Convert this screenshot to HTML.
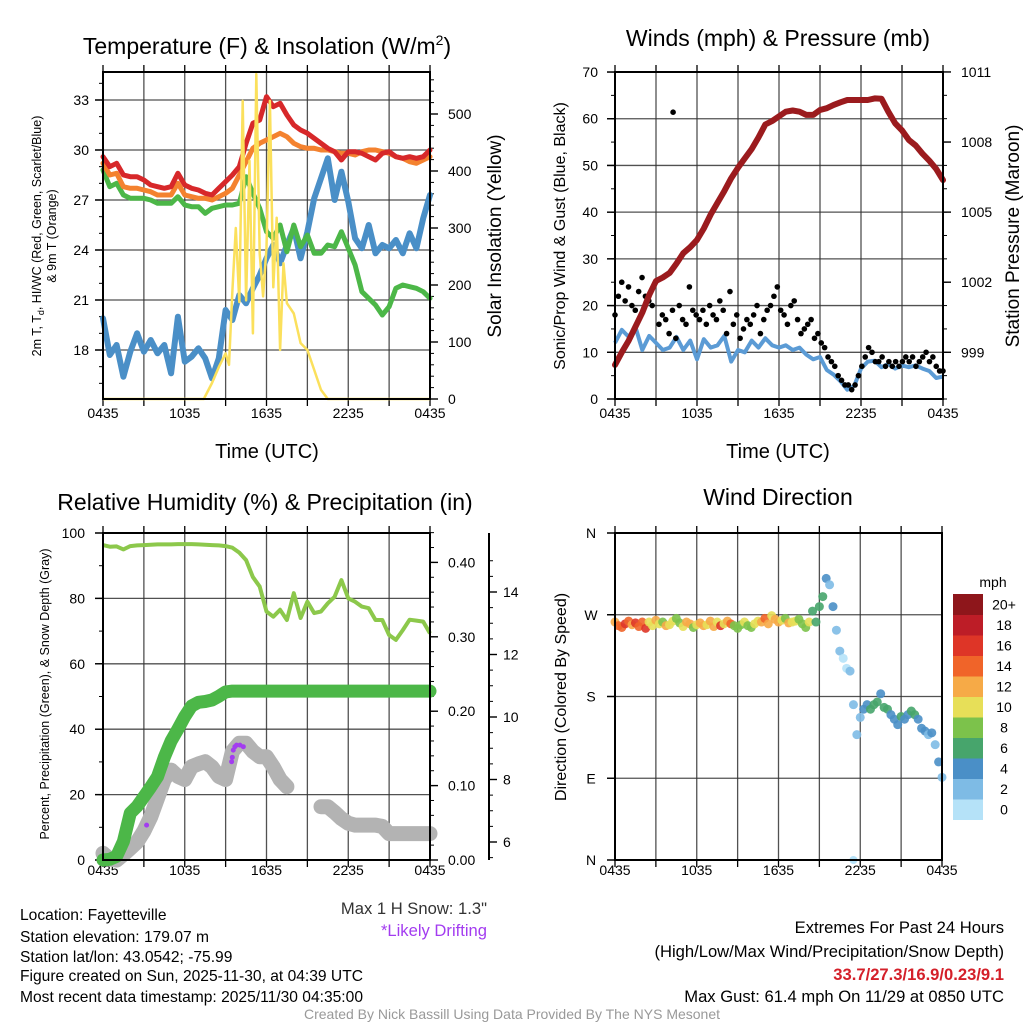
<!DOCTYPE html>
<html><head><meta charset="utf-8"><title>Mesonet Station Summary</title>
<style>
html,body{margin:0;padding:0;background:#fff;}
svg{display:block;font-family:"Liberation Sans",Arial,sans-serif;}
</style></head>
<body>
<svg id="chart" xmlns="http://www.w3.org/2000/svg" width="1024" height="1024" viewBox="0 0 1024 1024">
<rect x="0" y="0" width="1024" height="1024" fill="#fff"/>
<g id="layer"></g>
<!-- titles -->
<text x="267" y="54" font-size="23" text-anchor="middle">Temperature (F) &amp; Insolation (W/m<tspan font-size="14" dy="-9">2</tspan><tspan dy="9">)</tspan></text>
<text x="778" y="46" font-size="23" text-anchor="middle">Winds (mph) &amp; Pressure (mb)</text>
<text x="265" y="510" font-size="23" text-anchor="middle">Relative Humidity (%) &amp; Precipitation (in)</text>
<text x="778" y="505" font-size="23" text-anchor="middle">Wind Direction</text>
<!-- axis titles -->
<text x="267" y="458" font-size="20" text-anchor="middle">Time (UTC)</text>
<text x="778" y="458" font-size="20" text-anchor="middle">Time (UTC)</text>
<text transform="translate(41,236) rotate(-90)" font-size="12.5" text-anchor="middle">2m T, T<tspan font-size="9" dy="3">d</tspan><tspan dy="-3">, HI/WC (Red, Green, Scarlet/Blue)</tspan></text>
<text transform="translate(56,236) rotate(-90)" font-size="12.5" text-anchor="middle">&amp; 9m T (Orange)</text>
<text transform="translate(501,236) rotate(-90)" font-size="19" text-anchor="middle">Solar Insolation (Yellow)</text>
<text transform="translate(565,236) rotate(-90)" font-size="16" text-anchor="middle">Sonic/Prop Wind &amp; Gust (Blue, Black)</text>
<text transform="translate(1019,236) rotate(-90)" font-size="19" text-anchor="middle">Station Pressure (Maroon)</text>
<text transform="translate(49,694) rotate(-90)" font-size="12.5" text-anchor="middle">Percent, Precipitation (Green), &amp; Snow Depth (Gray)</text>
<text transform="translate(566,697) rotate(-90)" font-size="16" text-anchor="middle">Direction (Colored By Speed)</text>
<text x="993" y="587" font-size="14" text-anchor="middle">mph</text>
<!-- footer text -->
<g font-size="15.6">
<text x="20" y="920">Location: Fayetteville</text>
<text x="20" y="942">Station elevation: 179.07 m</text>
<text x="20" y="962">Station lat/lon: 43.0542; -75.99</text>
<text x="20" y="981">Figure created on Sun, 2025-11-30, at 04:39 UTC</text>
<text x="20" y="1002">Most recent data timestamp: 2025/11/30 04:35:00</text>
</g>
<text x="487" y="914" font-size="16.6" text-anchor="end" fill="#333">Max 1 H Snow: 1.3"</text>
<text x="487" y="936" font-size="16.6" text-anchor="end" fill="#a33cf0">*Likely Drifting</text>
<text x="1004" y="933" font-size="16.6" text-anchor="end">Extremes For Past 24 Hours</text>
<text x="1004" y="957" font-size="16.6" text-anchor="end">(High/Low/Max Wind/Precipitation/Snow Depth)</text>
<text x="1004" y="980" font-size="16.6" font-weight="bold" text-anchor="end" fill="#d4202a">33.7/27.3/16.9/0.23/9.1</text>
<text x="1004" y="1002" font-size="16.6" text-anchor="end">Max Gust: 61.4 mph On 11/29 at 0850 UTC</text>
<text x="512" y="1019" font-size="14" text-anchor="middle" fill="#999">Created By Nick Bassill Using Data Provided By The NYS Mesonet</text>
</svg>
<script>
// ---------- DATA ----------
const halfHourTimes = [0,0.5,1,1.5,2,2.5,3,3.5,4,4.5,5,5.5,6,6.5,7,7.5,8,8.5,9,9.5,10,10.5,11,11.5,12,12.5,13,13.5,14,14.5,15,15.5,16,16.5,17,17.5,18,18.5,19,19.5,20,20.5,21,21.5,22,22.5,23,23.5,24];
const xTickLabels = ["0435","1035","1635","2235","0435"];
const tempRed = [29.6,29.0,29.2,28.5,28.4,28.4,28.2,27.9,27.8,27.7,27.8,28.6,27.9,27.7,27.6,27.4,27.3,27.7,28.1,28.5,29.0,30.4,31.6,31.8,33.2,32.6,32.8,32.1,31.5,31.2,31.0,30.7,30.4,30.1,29.9,29.4,29.9,29.9,29.8,29.6,29.4,29.8,29.9,29.6,29.5,29.6,29.5,29.6,30.0];
const temp9m = [29.2,28.5,28.6,27.8,27.7,27.7,27.6,27.5,27.3,27.3,27.3,28.0,27.3,27.2,27.1,27.1,27.0,27.2,27.4,27.7,28.5,29.3,30.1,30.4,30.6,30.8,31.0,30.8,30.4,30.2,30.1,30.1,30.0,30.0,29.9,29.8,29.8,29.7,29.9,30.0,30.0,29.9,29.8,29.6,29.5,29.3,29.2,29.4,29.6];
const dewpoint = [28.8,27.8,28.0,27.3,27.1,27.1,27.1,27.0,26.8,26.8,26.8,27.2,26.7,26.6,26.6,26.2,26.5,26.6,26.7,26.7,26.8,28.4,27.4,26.5,25.1,24.7,25.5,23.9,25.5,24.2,24.9,23.8,23.8,24.3,24.2,25.1,24.1,23.1,21.5,21.1,20.7,20.1,20.6,21.7,21.9,21.8,21.7,21.5,21.1];
const windChill = [19.9,17.7,18.3,16.4,17.9,19.0,17.9,18.6,17.8,18.3,16.6,20.0,17.3,17.6,18.1,17.5,16.3,17.5,20.4,19.8,21.3,20.8,21.7,22.5,23.5,24.3,23.2,24.3,25.3,23.5,25.1,27.1,28.3,29.5,27.0,28.7,26.9,24.7,24.1,25.5,23.8,24.3,24.1,24.6,23.8,25.0,24.1,25.9,27.3];
const tempTicks = [18,21,24,27,30,33];
const solarTimes = [0,7.4,8,8.5,9,9.25,9.5,9.75,10,10.25,10.5,10.75,11,11.25,11.5,11.75,12,12.25,12.5,12.75,13,13.25,13.5,14,14.5,15,15.5,16,16.5,24];
const solarValues = [0,0,28,56,80,60,190,300,170,523,173,418,115,570,255,180,266,523,196,318,86,238,168,150,98,86,51,16,0,0];
const solarTicks = [0,100,200,300,400,500];

const pressure = [998.46,999.0,999.5,1000.1,1000.7,1001.45,1002.05,1002.2,1002.4,1002.8,1003.24,1003.5,1003.81,1004.3,1004.9,1005.4,1005.9,1006.45,1006.9,1007.3,1007.7,1008.2,1008.75,1008.9,1009.1,1009.3,1009.35,1009.3,1009.16,1009.16,1009.37,1009.45,1009.59,1009.7,1009.8,1009.8,1009.8,1009.8,1009.87,1009.85,1009.3,1008.8,1008.5,1008.09,1007.85,1007.5,1007.2,1006.85,1006.37];
const windSpeed = [12,14.8,13.3,15.4,10.5,13.5,12,10.5,11,13.3,10.5,12.5,8.5,12.8,11,11.5,13.5,8,10.5,10,12.5,11,13,11.5,11,11.5,10.5,11,9.5,8.5,9,6.2,5.2,3.8,2.0,2.8,6.5,8.0,8.2,6.8,7.5,6.5,7.2,6.8,7.2,6.5,6.0,4.5,4.8];
const gustValues = [18,22,25,21,24,20,19,23,26,22,21,20,25,
16,18,17,14,19,13,20,17,16,24,19,18,
17,19,16,20,18,17,21,19,14,23,16,18,
13,15,17,16,18,20,14,17,19,20,22,24,
19,18,16,20,21,17,14,15,16,17,13,14,
12,11,9,8,7,5,4,3,3,2,3,5,
7,9,11,10,8,8,9,7,8,7,8,7,
8,9,8,9,7,8,9,10,8,9,7,6,6];
const gustOutlierTimes = [4.25];
const gustOutlierValues = [61.4];
const windTicks = [0,10,20,30,40,50,60,70];
const pressureTicks = [999,1002,1005,1008,1011];

const relHumidity = [96.3,95.8,95.9,95.0,96.0,96.2,96.3,96.4,96.5,96.5,96.5,96.6,96.6,96.6,96.5,96.4,96.3,96.2,96.0,95.5,94.0,91.7,86.5,83.6,76.0,74.4,76.5,73.4,81.6,74.0,79.0,75.5,76.0,78.5,80.5,85.6,80.0,79.0,77.5,77.0,73.4,73.4,68.8,67.3,70.3,73.5,73.2,72.9,69.3];
const precipitation = [0,0.001,0.005,0.025,0.063,0.072,0.085,0.098,0.112,0.138,0.16,0.176,0.193,0.207,0.212,0.213,0.215,0.22,0.226,0.227,0.227,0.227,0.227,0.227,0.227,0.227,0.227,0.227,0.227,0.227,0.227,0.227,0.227,0.227,0.227,0.227,0.227,0.227,0.227,0.227,0.227,0.227,0.227,0.227,0.227,0.227,0.227,0.227,0.227];
const snowDepth = [5.64,5.45,5.42,5.6,5.8,6.0,6.35,6.8,7.4,8.0,8.3,8.1,8.0,8.41,8.5,8.57,8.4,8.1,8.0,8.9,9.16,9.16,8.9,8.73,8.73,8.4,8.0,7.77,null,null,null,null,7.13,7.13,6.95,6.75,6.6,6.54,6.54,6.54,6.54,6.5,6.27,6.27,6.27,6.27,6.27,6.27,6.27];
const driftTimes = [3.2,9.44,9.49,9.56,9.68,9.8,10.05,10.3];
const driftValues = [6.54,8.57,8.71,8.94,9.05,9.1,9.1,9.05];
const rhTicks = [0,20,40,60,80,100];
const precipTicks = [0,0.1,0.2,0.3,0.4];
const precipTickLabels = ["0.00","0.10","0.20","0.30","0.40"];
const snowTicks = [6,8,10,12,14];

const windDir = [262,258,256,260,263,259,261,257,262,255,262,258,264,
260,262,258,259,263,266,261,257,262,260,256,259,
261,258,259,263,257,262,258,260,263,260,258,255,
259,262,258,256,260,263,262,266,260,269,265,262,
264,266,261,262,263,265,260,256,262,274,262,279,
290,310,303,279,253,230,222,211,208,171,138,157,
166,171,166,171,174,183,168,166,160,155,149,158,
155,160,164,160,155,145,142,138,140,127,108,91];
const windDirSpeed = [12,14,14,16,15,13,17,15,14,16,10,11,13,
10,9,12,10,11,9,8,10,12,13,9,11,
12,13,10,12,12,11,17,10,13,15,9,8,
9,10,9,8,10,11,12,14,13,10,13,12,
11,9,12,10,10,8,9,8,10,6,7,6,
6,4,3,4,3,2,1,1,2,2,3,3,
4,5,6,6,6,4,7,6,4,4,4,6,
4,4,6,6,4,4,4,3,4,2,4,3];
const calmTimes = [17.5];
const calmDirs = [0];
const dirTicks = [0,90,180,270,360];
const dirTickLabels = ["N","E","S","W","N"];
const speedBinLabels = ["0","2","4","6","8","10","12","14","16","18","20+"];
const speedBinColors = ["#b5e2f8","#7ebbe5","#4a8fc7","#47a56c","#7cc24b","#e7df58","#f6aa47","#f06429","#de3527","#bd1d27","#8e161b"];

// ---------- HELPERS ----------
const NS = "http://www.w3.org/2000/svg";
const layer = document.getElementById("layer");
function mk(tag, attrs, name, parent){
  const el = document.createElementNS(NS, tag);
  for (const k in attrs) el.setAttribute(k, attrs[k]);
  
  
  (parent || layer).appendChild(el);
  return el;
}
function fixedTimes(n){ const a=[]; for(let i=0;i<n;i++) a.push(i*24/(n-1)); return a; }
const gustTimes = fixedTimes(gustValues.length);
const dirTimes = fixedTimes(windDir.length);
function pathD(ts, vs, fx, fy){
  let d="", pen=false;
  for(let i=0;i<ts.length;i++){
    if(vs[i]===null||vs[i]===undefined){pen=false;continue;}
    d += (pen?"L":"M")+fx(ts[i]).toFixed(1)+" "+fy(vs[i]).toFixed(1);
    pen=true;
  }
  return d;
}
function xScale(x0,x1){ return t => x0 + t/24*(x1-x0); }
function speedColor(s){ let i=Math.floor(s/2); if(i>10)i=10; if(i<0)i=0; return speedBinColors[i]; }

function frame(x0,y0,x1,y1,prefix){
  mk('rect',{x:x0,y:y0,width:x1-x0,height:y1-y0,fill:'none',stroke:'#000','stroke-width':2},prefix+'-plot-frame');
}
function vGrid(x0,x1,y0,y1,prefix,labelY){
  for(let i=0;i<=8;i++){
    const x=x0+i*(x1-x0)/8;
    mk('line',{x1:x,y1:y0,x2:x,y2:y1,stroke:'#333','stroke-width':1.3,'stroke-opacity':0.85},prefix+'-x-gridline');
    mk('line',{x1:x,y1:y1,x2:x,y2:y1+7,stroke:'#000','stroke-width':1.3},prefix+'-x-tick');
    mk('line',{x1:x,y1:y0,x2:x,y2:y0-7,stroke:'#000','stroke-width':1.3},prefix+'-x-tick-top');
    if(i%2===0){
      const t=mk('text',{x:x,y:labelY,'font-size':14,'text-anchor':'middle'},prefix+'-x-tick-label');
      t.textContent=xTickLabels[i/2];
    }
  }
}
function hGrid(vals,fy,x0,x1,prefix){
  vals.forEach(v=>{ const y=fy(v);
    mk('line',{x1:x0-8,y1:y,x2:x1,y2:y,stroke:'#333','stroke-width':1.3,'stroke-opacity':0.85},prefix+'-y-gridline'); });
}
function axisTicks(x,vals,fy,dir,len,prefix,labels,labelX,anchor,minorVals,fs){
  (minorVals||[]).forEach(v=>{ const y=fy(v);
    mk('line',{x1:x,y1:y,x2:x+dir*len/2,y2:y,stroke:'#000','stroke-width':1},prefix+'-minor-tick'); });
  vals.forEach((v,i)=>{ const y=fy(v);
    mk('line',{x1:x,y1:y,x2:x+dir*len,y2:y,stroke:'#000','stroke-width':1.4},prefix+'-major-tick');
    if(labels){ const t=mk('text',{x:labelX,y:y+5,'font-size':fs||14,'text-anchor':anchor},prefix+'-tick-label'); t.textContent=labels[i]; }
  });
}
function range(a,b,s){ const r=[]; for(let v=a; v<=b+1e-9; v+=s) r.push(+v.toFixed(4)); return r; }

// ---------- PANEL 1 ----------
(function(){
  const x0=103,x1=430,y0=72,y1=399;
  const fx=xScale(x0,x1);
  const fy=v=>350-(v-18)*16.667;
  const fs=w=>399-w*0.57;
  hGrid(tempTicks,fy,x0,x1,'temperature');
  vGrid(x0,x1,y0,y1,'temperature',418);
  axisTicks(x0,tempTicks,fy,-1,8,'temperature-y',tempTicks.map(String),89,'end',range(16,34,1));
  axisTicks(x1,solarTicks,fs,1,8,'solar-y',solarTicks.map(String),448,'start',range(0,560,20));
  mk('path',{d:pathD(halfHourTimes,windChill,fx,fy),fill:'none',stroke:'#4a8fc7','stroke-width':6,'stroke-linejoin':'round','stroke-linecap':'round'},'wind-chill-line');
  mk('path',{d:pathD(halfHourTimes,dewpoint,fx,fy),fill:'none',stroke:'#4cb748','stroke-width':5,'stroke-linejoin':'round','stroke-linecap':'round'},'dewpoint-line');
  mk('path',{d:pathD(halfHourTimes,temp9m,fx,fy),fill:'none',stroke:'#f4822f','stroke-width':5,'stroke-linejoin':'round','stroke-linecap':'round'},'temperature-9m-line');
  mk('path',{d:pathD(halfHourTimes,tempRed,fx,fy),fill:'none',stroke:'#d7282a','stroke-width':5,'stroke-linejoin':'round','stroke-linecap':'round'},'temperature-2m-line');
  mk('path',{d:pathD(solarTimes,solarValues,fx,fs),fill:'none',stroke:'#fbe05c','stroke-width':2.5,'stroke-linejoin':'round'},'solar-insolation-line');
  frame(x0,y0,x1,y1,'temperature');
})();

// ---------- PANEL 2 ----------
(function(){
  const x0=615,x1=943,y0=72,y1=399;
  const fx=xScale(x0,x1);
  const fw=v=>399-v*4.671;
  const fp=p=>399-(p-997)*23.36;
  hGrid(windTicks,fw,x0,x1,'winds');
  vGrid(x0,x1,y0,y1,'winds',418);
  axisTicks(x0,windTicks,fw,-1,8,'wind-y',windTicks.map(String),598,'end',range(0,70,5));
  axisTicks(x1,pressureTicks,fp,1,8,'pressure-y',pressureTicks.map(String),961,'start',range(997,1011,1));
  mk('path',{d:pathD(halfHourTimes,windSpeed,fx,fw),fill:'none',stroke:'#5b9bd5','stroke-width':4,'stroke-linejoin':'round'},'wind-speed-line');
  gustTimes.forEach((t,i)=>{
    mk('circle',{cx:fx(t),cy:fw(gustValues[i]),r:2.8,fill:'#000'},'gust-point');
  });
  gustOutlierTimes.forEach((t,i)=>{
    mk('circle',{cx:fx(t),cy:fw(gustOutlierValues[i]),r:2.8,fill:'#000'},'max-gust-point');
  });
  mk('path',{d:pathD(halfHourTimes,pressure,fx,fp),fill:'none',stroke:'#9b1b1e','stroke-width':6,'stroke-linejoin':'round','stroke-linecap':'round'},'pressure-line');
  frame(x0,y0,x1,y1,'winds');
})();

// ---------- PANEL 3 ----------
(function(){
  const x0=103,x1=430,y0=533,y1=860;
  const fx=xScale(x0,x1);
  const fr=v=>860-v*3.27;
  const fpr=p=>860-p*744;
  const fsn=s=>842-(s-6)*31.25;
  hGrid(rhTicks,fr,x0,x1,'humidity');
  vGrid(x0,x1,y0,y1,'humidity',875);
  axisTicks(x0,rhTicks,fr,-1,8,'humidity-y',rhTicks.map(String),85,'end',range(0,100,10));
  axisTicks(x1,precipTicks,fpr,1,8,'precip-y',precipTickLabels,448,'start',range(0,0.44,0.02));
  mk('line',{x1:489,y1:533,x2:489,y2:860,stroke:'#000','stroke-width':2},'snow-axis-line');
  axisTicks(489,snowTicks,fsn,1,8,'snow-y',snowTicks.map(String),503,'start',range(5.5,15,0.5));
  mk('path',{d:pathD(halfHourTimes,relHumidity,fx,fr),fill:'none',stroke:'#8cc84b','stroke-width':4,'stroke-linejoin':'round'},'relative-humidity-line');
  mk('path',{d:pathD(halfHourTimes,snowDepth,fx,fsn),fill:'none',stroke:'#b3b3b3','stroke-width':15,'stroke-linejoin':'round','stroke-linecap':'round'},'snow-depth-line');
  mk('path',{d:pathD(halfHourTimes,precipitation,fx,fpr),fill:'none',stroke:'#4cb748','stroke-width':13,'stroke-linejoin':'round','stroke-linecap':'round'},'precipitation-line');
  driftTimes.forEach((t,i)=>{
    mk('circle',{cx:fx(t),cy:fsn(driftValues[i]),r:2.5,fill:'#a33cf0'},'drifting-point');
  });
  frame(x0,y0,x1,y1,'humidity');
})();

// ---------- PANEL 4 ----------
(function(){
  const x0=615,x1=942,y0=533,y1=860;
  const fx=xScale(x0,x1);
  const fd=d=>860-d*327/360;
  hGrid(dirTicks,fd,x0,x1,'direction');
  vGrid(x0,x1,y0,y1,'direction',875);
  axisTicks(x0,dirTicks,fd,-1,8,'direction-y',dirTickLabels,591,'middle',[],14);
  dirTimes.forEach((t,i)=>{
    mk('circle',{cx:fx(t),cy:fd(windDir[i]),r:4.5,fill:speedColor(windDirSpeed[i]),'fill-opacity':0.9},'wind-direction-point');
  });
  calmTimes.forEach((t,i)=>{
    mk('circle',{cx:fx(t),cy:fd(calmDirs[i]),r:4,fill:speedBinColors[0]},'calm-direction-point');
  });
  frame(x0,y0,x1,y1,'direction');
  const cbTop=594, boxH=20.5;
  speedBinLabels.forEach((lab,i)=>{
    const k = speedBinLabels.length-1-i;
    const y = cbTop + k*boxH;
    mk('rect',{x:953,y:y,width:30,height:boxH+0.5,fill:speedBinColors[i]},'colorbar-box');
    const t = mk('text',{x:1004,y:y+boxH/2+5,'font-size':14,'text-anchor':'middle'},'colorbar-label');
    t.textContent = lab;
  });
})();
</script>
</body></html>
